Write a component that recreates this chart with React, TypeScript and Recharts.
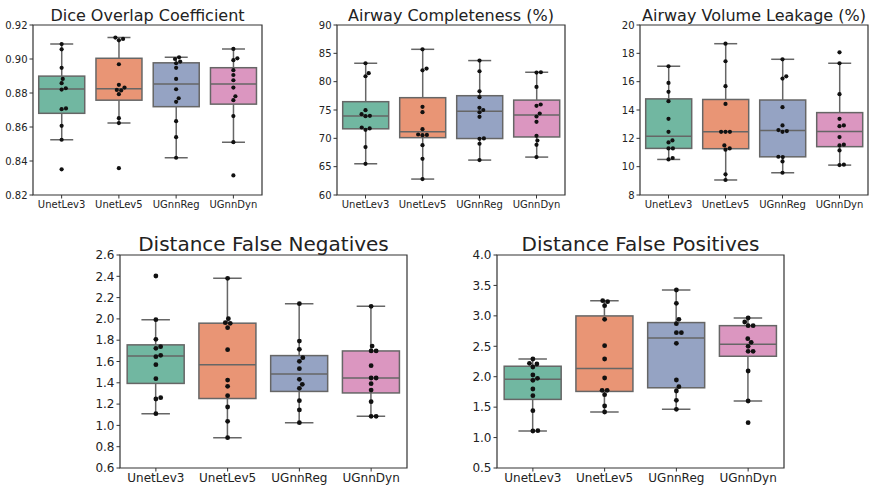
import React from "react"
import { Bar, ComposedChart, ReferenceArea, Scatter, XAxis, YAxis } from "recharts"

const groups = ["UnetLev3", "UnetLev5", "UGnnReg", "UGnnDyn"]
const groupColors = ["#71b7a1", "#e99575", "#95a3c3", "#db96c0"]

// values per group
const diceValues = [
  [0.9088, 0.9057, 0.8948, 0.8883, 0.8858, 0.8828, 0.882, 0.8709, 0.8705, 0.8607, 0.8525, 0.8351],
  [0.9126, 0.9118, 0.911, 0.8969, 0.8848, 0.8832, 0.8818, 0.8815, 0.8793, 0.8652, 0.8623, 0.8358],
  [0.901, 0.9, 0.8985, 0.8975, 0.8948, 0.8883, 0.8822, 0.8769, 0.8748, 0.8634, 0.854, 0.8419],
  [0.9059, 0.9004, 0.8993, 0.8934, 0.8906, 0.8875, 0.8832, 0.8781, 0.8758, 0.8664, 0.8511, 0.8315],
]
const completenessValues = [
  [83.25, 81.49, 80.96, 74.97, 74.26, 73.97, 73.91, 71.91, 71.74, 71.5, 68.45, 65.51],
  [85.71, 82.31, 82.01, 75.56, 74.62, 71.62, 70.68, 70.6, 70.56, 68.8, 66.39, 62.81],
  [83.72, 81.84, 78.31, 77.26, 75.38, 75.0, 74.6, 73.79, 69.98, 69.92, 69.04, 66.16],
  [81.66, 81.6, 79.08, 75.97, 75.73, 74.38, 73.85, 72.91, 70.45, 69.62, 68.86, 66.69],
]
const leakageValues = [
  [17.09, 15.91, 15.28, 14.62, 13.38, 12.46, 11.85, 11.71, 11.29, 11.29, 10.61, 10.51],
  [18.68, 17.44, 15.68, 14.43, 12.46, 12.46, 12.46, 11.5, 11.29, 11.2, 9.46, 9.06],
  [17.58, 16.38, 16.22, 14.2, 12.91, 12.58, 12.51, 12.46, 10.7, 10.68, 10.37, 9.57],
  [18.07, 17.3, 15.12, 13.38, 12.91, 12.86, 12.09, 11.55, 11.5, 11.15, 10.14, 10.11],
]
const fnDistValues = [
  [2.403, 1.993, 1.808, 1.739, 1.724, 1.658, 1.645, 1.57, 1.439, 1.26, 1.248, 1.11],
  [2.381, 2.002, 1.965, 1.958, 1.918, 1.711, 1.426, 1.367, 1.279, 1.173, 1.038, 0.885],
  [2.143, 1.792, 1.714, 1.636, 1.602, 1.533, 1.433, 1.386, 1.348, 1.232, 1.145, 1.026],
  [2.118, 1.745, 1.699, 1.699, 1.561, 1.445, 1.445, 1.392, 1.332, 1.223, 1.085, 1.085],
]
const fpDistValues = [
  [2.291, 2.22, 2.209, 2.16, 2.028, 1.973, 1.941, 1.798, 1.689, 1.442, 1.114, 1.108],
  [3.25, 3.233, 3.167, 2.943, 2.51, 2.291, 1.979, 1.776, 1.776, 1.705, 1.519, 1.42],
  [3.425, 3.206, 2.943, 2.872, 2.724, 2.724, 2.548, 1.946, 1.836, 1.765, 1.612, 1.464],
  [2.965, 2.899, 2.839, 2.839, 2.625, 2.565, 2.5, 2.417, 2.417, 2.094, 1.601, 1.245],
]

const diceTicks = [0.82, 0.84, 0.86, 0.88, 0.9, 0.92]
const completenessTicks = [60, 65, 70, 75, 80, 85, 90]
const leakageTicks = [8, 10, 12, 14, 16, 18, 20]
const fnDistTicks = [0.6, 0.8, 1.0, 1.2, 1.4, 1.6, 1.8, 2.0, 2.2, 2.4, 2.6]
const fpDistTicks = [0.5, 1.0, 1.5, 2.0, 2.5, 3.0, 3.5, 4.0]

const LINE = "#666666"
const FRAME = "#333333"
const TEXT = "#222222"

function quantile(s: number[], q: number) {
  const pos = (s.length - 1) * q
  const lo = Math.floor(pos)
  const hi = Math.ceil(pos)
  return s[lo] + (s[hi] - s[lo]) * (pos - lo)
}

function boxStats(values: number[]) {
  const s = [...values].sort((a, b) => a - b)
  const q1 = quantile(s, 0.25)
  const median = quantile(s, 0.5)
  const q3 = quantile(s, 0.75)
  const iqr = q3 - q1
  const whiskLo = Math.min(...s.filter((v) => v >= q1 - 1.5 * iqr))
  const whiskHi = Math.max(...s.filter((v) => v <= q3 + 1.5 * iqr))
  return { q1, median, q3, whiskLo, whiskHi }
}

// seaborn-like swarm: place each point at the smallest offset that doesn't overlap
function swarm(values: number[], pxPerUnit: number, diam: number) {
  const order = values.map((v, i) => ({ v, i })).sort((a, b) => a.v - b.v)
  const placed: { x: number; y: number }[] = []
  const dx = new Array(values.length).fill(0)
  for (const { v, i } of order) {
    const y = v * pxPerUnit
    const near = placed.filter((p) => Math.abs(p.y - y) < diam)
    const cands = [0]
    for (const p of near) {
      const off = Math.sqrt(diam * diam - (p.y - y) * (p.y - y))
      cands.push(p.x + off, p.x - off)
    }
    cands.sort((a, b) => Math.abs(a) - Math.abs(b))
    let chosen = 0
    for (const c of cands) {
      if (near.every((p) => (p.x - c) ** 2 + (p.y - y) ** 2 >= diam * diam - 1e-6)) {
        chosen = c
        break
      }
    }
    placed.push({ x: chosen, y })
    dx[i] = chosen
  }
  return dx
}

const BoxShape = (props: any) => {
  const { x, y, width, height, payload, index } = props
  const top = Math.min(y, y + height)
  const h = Math.abs(height)
  const { q1, median, q3, whiskLo, whiskHi } = payload
  const py = (v: number) => (whiskHi === whiskLo ? top : top + ((whiskHi - v) / (whiskHi - whiskLo)) * h)
  const cx = x + width / 2
  const cap = width / 4
  return (
    <g>
      <line x1={cx} x2={cx} y1={py(whiskHi)} y2={py(q3)} stroke={LINE} strokeWidth={1.5} />
      <line x1={cx} x2={cx} y1={py(q1)} y2={py(whiskLo)} stroke={LINE} strokeWidth={1.5} />
      <line x1={cx - cap} x2={cx + cap} y1={py(whiskHi)} y2={py(whiskHi)} stroke={LINE} strokeWidth={1.5} />
      <line x1={cx - cap} x2={cx + cap} y1={py(whiskLo)} y2={py(whiskLo)} stroke={LINE} strokeWidth={1.5} />
      <rect x={x} y={py(q3)} width={width} height={py(q1) - py(q3)} fill={groupColors[index]} stroke={LINE} strokeWidth={1.5} />
      <line x1={x} x2={x + width} y1={py(median)} y2={py(median)} stroke={LINE} strokeWidth={1.5} />
    </g>
  )
}

interface PanelCfg {
  title: string
  values: number[][]
  ticks: number[]
  digits: number
  left: number
  right: number
  top: number
  bottom: number
  fontSize: number
  dot: number
}

const panels: PanelCfg[] = [
  { title: "Dice Overlap Coefficient", values: diceValues, ticks: diceTicks, digits: 2, left: 33, right: 262, top: 25, bottom: 195, fontSize: 10, dot: 2.1 },
  { title: "Airway Completeness (%)", values: completenessValues, ticks: completenessTicks, digits: 0, left: 337, right: 565, top: 25, bottom: 195, fontSize: 10, dot: 2.1 },
  { title: "Airway Volume Leakage (%)", values: leakageValues, ticks: leakageTicks, digits: 0, left: 640, right: 868, top: 25, bottom: 195, fontSize: 10, dot: 2.1 },
  { title: "Distance False Negatives", values: fnDistValues, ticks: fnDistTicks, digits: 1, left: 120, right: 407, top: 255, bottom: 468, fontSize: 12, dot: 2.4 },
  { title: "Distance False Positives", values: fpDistValues, ticks: fpDistTicks, digits: 1, left: 497, right: 784, top: 255, bottom: 468, fontSize: 12, dot: 2.4 },
]

function Panel({ cfg }: { cfg: PanelCfg }) {
  const yAxisW = 40
  const mTop = 6
  const mRight = 3
  const xAxisH = 30
  const plotW = cfg.right - cfg.left
  const plotH = cfg.bottom - cfg.top
  const lo = cfg.ticks[0]
  const hi = cfg.ticks[cfg.ticks.length - 1]
  const pxPerUnit = plotH / (hi - lo)

  const rows = groups.map((name, i) => {
    const st = boxStats(cfg.values[i])
    return { name, range: [st.whiskLo, st.whiskHi], ...st }
  })
  const points = groups.flatMap((name, i) => {
    const dx = swarm(cfg.values[i], pxPerUnit, cfg.dot * 2 + 0.2)
    return cfg.values[i].map((value, j) => ({ name, value, dx: dx[j] }))
  })
  const Dot = (p: any) => <circle cx={p.cx + p.payload.dx} cy={p.cy} r={cfg.dot} fill="#111111" />

  return (
    <div style={{ position: "absolute", left: cfg.left - yAxisW, top: cfg.top - mTop }}>
      <ComposedChart
        width={plotW + yAxisW + mRight}
        height={plotH + mTop + xAxisH}
        data={rows}
        margin={{ top: mTop, right: mRight, bottom: 0, left: 0 }}
        barCategoryGap="10%"
      >
        <XAxis
          dataKey="name"
          allowDuplicatedCategory={false}
          height={xAxisH}
          axisLine={false}
          tickLine={{ stroke: FRAME }}
          tickSize={3.5}
          interval={0}
          tick={{ fontSize: cfg.fontSize, fill: TEXT, fontFamily: "DejaVu Sans" }}
        />
        <YAxis
          type="number"
          domain={[lo, hi]}
          ticks={cfg.ticks}
          interval={0}
          allowDataOverflow
          width={yAxisW}
          axisLine={false}
          tickLine={{ stroke: FRAME }}
          tickSize={3.5}
          tickFormatter={(v: number) => v.toFixed(cfg.digits)}
          tick={{ fontSize: cfg.fontSize, fill: TEXT, fontFamily: "DejaVu Sans" }}
        />
        <Bar dataKey="range" shape={BoxShape} isAnimationActive={false} />
        <Scatter data={points} dataKey="value" shape={Dot} isAnimationActive={false} />
        <ReferenceArea y1={lo} y2={hi} fill="none" stroke={FRAME} strokeWidth={1.2} ifOverflow="visible" />
      </ComposedChart>
    </div>
  )
}

export default function App() {
  return (
    <div style={{ position: "absolute", left: 0, top: 0, width: 872, height: 487, overflow: "hidden", background: "#fff" }}>
      {panels.map((cfg) => (
        <Panel key={cfg.title} cfg={cfg} />
      ))}
      <svg width={872} height={487} style={{ position: "absolute", left: 0, top: 0, pointerEvents: "none" }}>
        {panels.map((cfg, i) => (
          <text
            key={cfg.title}
            x={(cfg.left + cfg.right) / 2}
            y={i < 3 ? 21 : 251}
            textAnchor="middle"
            fontFamily="DejaVu Sans"
            fontSize={i < 3 ? 16 : 20}
            fill={TEXT}
          >
            {cfg.title}
          </text>
        ))}
      </svg>
    </div>
  )
}
